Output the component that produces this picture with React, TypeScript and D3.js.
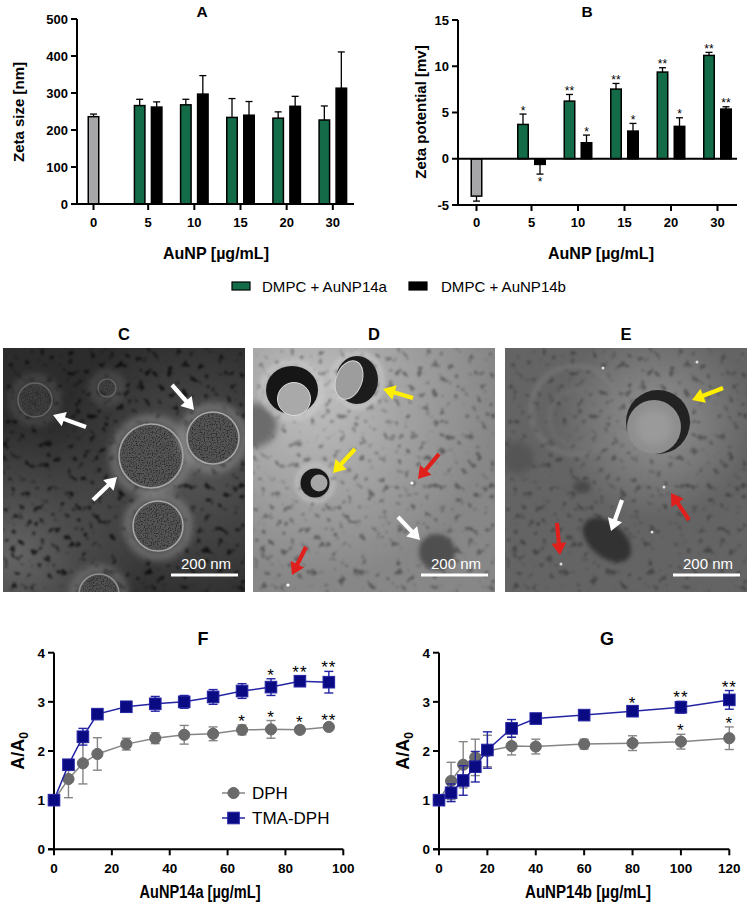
import React from 'react';
import * as d3 from 'd3';

// ---- data: panels A and B (zeta size / zeta potential) ----
const barGroups = ['0', '5', '10', '15', '20', '30'];
const barSeries = ['DMPC + AuNP14a', 'DMPC + AuNP14b'];

const sizeControl = { mean: 236, sd: 7 };
const size14a = [266, 268, 234, 232, 227];
const size14aSd = [17, 15, 51, 17, 38];
const size14b = [262, 297, 240, 264, 313];
const size14bSd = [14, 50, 37, 27, 98];

const potControl = { mean: -4.04, sd: 0.54 };
const pot14a = [3.71, 6.23, 7.53, 9.37, 11.17];
const pot14aSd = [1.12, 0.72, 0.61, 0.47, 0.33];
const pot14b = [-0.61, 1.73, 2.99, 3.5, 5.37];
const pot14bSd = [1.05, 0.83, 0.83, 0.93, 0.25];
const potSig14a = ['*', '**', '**', '**', '**'];
const potSig14b = ['*', '*', '*', '*', '**'];

// ---- data: panels F and G (A/A0) ----
const conc14a = [0, 5, 10, 15, 25, 35, 45, 55, 65, 75, 85, 95];
const dphF = [1, 1.43, 1.75, 1.94, 2.14, 2.26, 2.33, 2.35, 2.43, 2.44, 2.43, 2.49];
const dphFSd = [0.02, 0.38, 0.42, 0.33, 0.12, 0.11, 0.19, 0.14, 0.1, 0.18, 0.07, 0.06];
const tmaF = [1, 1.72, 2.29, 2.75, 2.9, 2.96, 3.0, 3.1, 3.22, 3.3, 3.42, 3.4];
const tmaFSd = [0.02, 0.05, 0.17, 0.07, 0.03, 0.15, 0.13, 0.15, 0.15, 0.17, 0.1, 0.22];
const dphFSig = ['', '', '', '', '', '', '', '', '*', '*', '*', '**'];
const tmaFSig = ['', '', '', '', '', '', '', '', '', '*', '**', '**'];

const conc14b = [0, 5, 10, 15, 20, 30, 40, 60, 80, 100, 120];
const dphG = [1, 1.39, 1.72, 1.87, 2.0, 2.1, 2.09, 2.14, 2.16, 2.19, 2.26];
const dphGSd = [0.02, 0.38, 0.47, 0.37, 0.32, 0.18, 0.15, 0.1, 0.15, 0.15, 0.23];
const tmaG = [1, 1.15, 1.4, 1.68, 2.02, 2.46, 2.66, 2.73, 2.81, 2.89, 3.04];
const tmaGSd = [0.02, 0.18, 0.3, 0.31, 0.37, 0.18, 0.1, 0.04, 0.08, 0.12, 0.19];
const dphGSig = ['', '', '', '', '', '', '', '', '', '*', '*'];
const tmaGSig = ['', '', '', '', '', '', '', '', '*', '**', '**'];

const FONT = "'Liberation Sans', Arial, Helvetica, sans-serif";
const GREEN = '#136b48';
const GRAY_BAR = '#a7a7a9';
const NAVY = '#0a0a82';
const NAVY_LINE = '#2424a4';
const DPH_GRAY = '#6a6a6a';
const DPH_LINE = '#858585';

type BarProps = {
  left: number; right: number; top: number; bottom: number;
  domain: [number, number]; ticks: number[];
  control: { mean: number; sd: number };
  a: number[]; aSd: number[]; b: number[]; bSd: number[];
  sigA?: string[]; sigB?: string[];
  slot0: number; title: string; yLabel: string; titleX: number; yLabelX: number; xLabelX: number;
};

function BarPanel(p: BarProps) {
  const y = d3.scaleLinear().domain(p.domain).range([p.bottom, p.top]);
  const xg = d3.scaleBand<string>().domain(barGroups).range([p.left, p.right]);
  const xs = d3.scaleBand<string>().domain(barSeries)
    .range([p.slot0 - 5.25, p.slot0 + 22.25]).paddingInner(0.382);
  const bw = xs.bandwidth();

  const bars: { g: string; s: string; v: number; sd: number; fill: string; sig: string }[] = [
    { g: barGroups[0], s: barSeries[0], v: p.control.mean, sd: p.control.sd, fill: GRAY_BAR, sig: '' },
  ];
  barGroups.slice(1).forEach((g, i) => {
    bars.push({ g, s: barSeries[0], v: p.a[i], sd: p.aSd[i], fill: GREEN, sig: p.sigA ? p.sigA[i] : '' });
    bars.push({ g, s: barSeries[1], v: p.b[i], sd: p.bSd[i], fill: '#000', sig: p.sigB ? p.sigB[i] : '' });
  });
  const cx = (d: { g: string; s: string }) => (xg(d.g) as number) + (xs(d.s) as number) + bw / 2;
  const labelX = barGroups.map(g => d3.mean(bars.filter(d => d.g === g), cx) as number);
  const y0 = y(0);
  const yMinPx = y(p.domain[0]);

  return (
    <g fontFamily={FONT}>
      <text x={p.titleX} y={17} fontSize={15.5} fontWeight="bold" textAnchor="middle">{p.title}</text>
      <text transform={`translate(${p.yLabelX},${112}) rotate(-90)`} fontSize={15} fontWeight="bold" textAnchor="middle">{p.yLabel}</text>
      {bars.map((d, i) => {
        const dir = d.v >= 0 ? 1 : -1;
        const end = y(d.v + dir * d.sd);
        const x = cx(d);
        return (
          <g key={i}>
            <line x1={x} x2={x} y1={y(d.v)} y2={end} stroke="#000" strokeWidth={1.3} />
            <line x1={x - 3.5} x2={x + 3.5} y1={end} y2={end} stroke="#000" strokeWidth={1.3} />
            <rect x={x - bw / 2} width={bw} y={Math.min(y(d.v), y0)} height={Math.abs(y(d.v) - y0)}
              fill={d.fill} stroke="#000" strokeWidth={1.5} />
            {d.sig && (
              <text x={x} y={dir > 0 ? end + 0.5 : end + 12} fontSize={12} textAnchor="middle">{d.sig}</text>
            )}
          </g>
        );
      })}
      {/* y axis */}
      <line x1={p.left} x2={p.left} y1={p.top} y2={yMinPx + 1} stroke="#000" strokeWidth={2} />
      {p.ticks.map(t => (
        <g key={t}>
          <line x1={p.left - 6} x2={p.left} y1={y(t)} y2={y(t)} stroke="#000" strokeWidth={2} />
          <text x={p.left - 9} y={y(t)} dy="0.36em" fontSize={13} fontWeight="bold" textAnchor="end">{t}</text>
        </g>
      ))}
      {/* baseline and bottom axis */}
      <line x1={p.left} x2={p.right} y1={y0} y2={y0} stroke="#000" strokeWidth={2} />
      {p.domain[0] < 0 && <line x1={p.left} x2={p.right} y1={yMinPx} y2={yMinPx} stroke="#000" strokeWidth={2} />}
      {barGroups.map((g, i) => (
        <g key={g}>
          <line x1={labelX[i]} x2={labelX[i]} y1={yMinPx} y2={yMinPx + 6} stroke="#000" strokeWidth={2} />
          <text x={labelX[i]} y={227} fontSize={13} fontWeight="bold" textAnchor="middle">{g}</text>
        </g>
      ))}
      <text x={p.xLabelX} y={259} fontSize={17} fontWeight="bold" textAnchor="middle"
        textLength={106} lengthAdjust="spacingAndGlyphs">AuNP [µg/mL]</text>
    </g>
  );
}

type LineProps = {
  left: number; right: number; xMax: number; xTicks: number[];
  xs: number[]; dph: number[]; dphSd: number[]; tma: number[]; tmaSd: number[];
  dphSig: string[]; tmaSig: string[];
  title: string; titleX: number; xLabel: string; xLabelX: number; xLabelW: number; yLabelX: number; legend?: boolean;
};

function LinePanel(p: LineProps) {
  const top = 652.7, bottom = 849.3;
  const x = d3.scaleLinear().domain([0, p.xMax]).range([p.left, p.right]);
  const y = d3.scaleLinear().domain([0, 4]).range([bottom, top]);
  const line = d3.line<number>().x((_, i) => x(p.xs[i])).y(d => y(d));
  const series = [
    { vals: p.dph, sd: p.dphSd, sig: p.dphSig, line: DPH_LINE, fill: DPH_GRAY, shape: 'circle' },
    { vals: p.tma, sd: p.tmaSd, sig: p.tmaSig, line: NAVY_LINE, fill: NAVY, shape: 'square' },
  ];
  const marker = (shape: string, cx: number, cy: number, fill: string, k: any) =>
    shape === 'circle'
      ? <circle key={k} cx={cx} cy={cy} r={5.6} fill={fill} stroke={fill} strokeWidth={1} />
      : <rect key={k} x={cx - 5.8} y={cy - 5.8} width={11.6} height={11.6} fill={fill} stroke={NAVY_LINE} strokeWidth={1} />;

  return (
    <g fontFamily={FONT}>
      <text x={p.titleX} y={645} fontSize={18} fontWeight="bold" textAnchor="middle">{p.title}</text>
      <text transform={`translate(${p.yLabelX},751) rotate(-90)`} fontSize={18} fontWeight="bold" textAnchor="middle">
        A/A<tspan fontSize={12} dy={4}>0</tspan>
      </text>
      {/* axes */}
      <line x1={p.left} x2={p.left} y1={top} y2={bottom + 1} stroke="#000" strokeWidth={2} />
      {[0, 1, 2, 3, 4].map(t => (
        <g key={t}>
          <line x1={p.left - 6} x2={p.left} y1={y(t)} y2={y(t)} stroke="#000" strokeWidth={2} />
          <text x={p.left - 9} y={y(t)} dy="0.36em" fontSize={13.5} fontWeight="bold" textAnchor="end">{t}</text>
        </g>
      ))}
      <line x1={p.left - 6} x2={p.right} y1={bottom} y2={bottom} stroke="#000" strokeWidth={2} />
      {p.xTicks.map(t => (
        <g key={t}>
          <line x1={x(t)} x2={x(t)} y1={bottom} y2={bottom + 6} stroke="#000" strokeWidth={2} />
          <text x={x(t)} y={873} fontSize={13.5} fontWeight="bold" textAnchor="middle">{t}</text>
        </g>
      ))}
      <text x={p.xLabelX} y={898} fontSize={18} fontWeight="bold" textAnchor="middle"
        textLength={p.xLabelW} lengthAdjust="spacingAndGlyphs">{p.xLabel}</text>
      {series.map((s, si) => (
        <g key={si}>
          {s.vals.map((v, i) => {
            const xi = x(p.xs[i]);
            const hi = y(v + s.sd[i]), lo = y(v - s.sd[i]);
            return (
              <g key={i} stroke={s.line} strokeWidth={1.4}>
                <line x1={xi} x2={xi} y1={hi} y2={lo} />
                <line x1={xi - 4.5} x2={xi + 4.5} y1={hi} y2={hi} />
                <line x1={xi - 4.5} x2={xi + 4.5} y1={lo} y2={lo} />
              </g>
            );
          })}
          <path d={line(s.vals) as string} fill="none" stroke={s.line} strokeWidth={1.5} />
          {s.vals.map((v, i) => marker(s.shape, x(p.xs[i]), y(v), s.fill, i))}
          {s.sig.map((g, i) => g && (
            <text key={'s' + i} x={x(p.xs[i])} y={y(s.vals[i] + s.sd[i]) + 2} fontSize={17} textAnchor="middle" letterSpacing={1}>{g}</text>
          ))}
        </g>
      ))}
      {p.legend && (
        <g fontSize={17}>
          <line x1={222} x2={245} y1={793} y2={793} stroke={DPH_LINE} strokeWidth={1.5} />
          {marker('circle', 233.5, 793, DPH_GRAY, 'l1')}
          <text x={252} y={799}>DPH</text>
          <line x1={222} x2={245} y1={818} y2={818} stroke={NAVY_LINE} strokeWidth={1.5} />
          {marker('square', 233.5, 818, NAVY, 'l2')}
          <text x={252} y={824}>TMA-DPH</text>
        </g>
      )}
    </g>
  );
}

// ---- micrographs ----
type Pt = [number, number];
function arrowPath(t: Pt, h: Pt, sw = 4.2, hl = 12, hw = 7.5) {
  const dx = h[0] - t[0], dy = h[1] - t[1];
  const L = Math.hypot(dx, dy);
  const ux = dx / L, uy = dy / L, nx = -uy, ny = ux;
  const bx = h[0] - ux * hl, by = h[1] - uy * hl;
  const pts: Pt[] = [
    [t[0] + nx * sw / 2, t[1] + ny * sw / 2], [bx + nx * sw / 2, by + ny * sw / 2], [bx + nx * hw, by + ny * hw], h,
    [bx - nx * hw, by - ny * hw], [bx - nx * sw / 2, by - ny * sw / 2], [t[0] - nx * sw / 2, t[1] - ny * sw / 2],
  ];
  return (d3.line()(pts) as string) + 'Z';
}

const PW = 242, PH = 244;

function ScaleBar() {
  return (
    <g fontFamily={FONT}>
      <line x1={168} x2={235} y1={227} y2={227} stroke="#fff" strokeWidth={3} />
      <text x={203} y={221} fill="#fff" fontSize={15} textAnchor="middle">200 nm</text>
    </g>
  );
}

function PanelC() {
  const ves = [
    { c: [32, 52] as Pt, r: 17, o: 0.45 },
    { c: [104, 40] as Pt, r: 9, o: 0.4 },
    { c: [148, 108] as Pt, r: 32, o: 1 },
    { c: [210, 90] as Pt, r: 26, o: 1 },
    { c: [155, 178] as Pt, r: 25, o: 1 },
    { c: [96, 246] as Pt, r: 20, o: 0.8 },
  ];
  return (
    <g>
      <rect width={PW} height={PH} fill="#2c2c2c" />
      <rect width={PW} height={PH} fill="url(#cGlow)" />
      <rect width={PW} height={PH} fill="url(#cGlow2)" />
      <rect width={PW} height={PH} filter="url(#speckle)" opacity={0.7} />
      {ves.map((v, i) => (
        <g key={i} opacity={v.o}>
          <circle cx={v.c[0]} cy={v.c[1]} r={v.r + 5} fill="none" stroke="#9c9c9c" strokeWidth={9} opacity={0.5} filter="url(#blur3)" />
          <circle cx={v.c[0]} cy={v.c[1]} r={v.r} fill="#555" stroke="#a8a8a8" strokeWidth={1.5} />
          <circle cx={v.c[0]} cy={v.c[1]} r={v.r - 1.5} filter="url(#honey)" opacity={0.8} />
        </g>
      ))}
      {[[[83, 79], [50, 67]], [[169, 37], [191, 62]], [[90, 152], [114, 129]]].map((a, i) => (
        <path key={i} d={arrowPath(a[0] as Pt, a[1] as Pt)} fill="#fff" />
      ))}
      <ScaleBar />
    </g>
  );
}

function PanelD() {
  return (
    <g>
      <rect width={PW} height={PH} fill="#878787" />
      <rect width={PW} height={PH} fill="url(#dGlow)" />
      <rect width={PW} height={PH} filter="url(#speckle)" opacity={0.35} />
      <circle cx={2} cy={77} r={22} fill="#6c6c6c" filter="url(#blur3)" />
      <circle cx={184} cy={204} r={18} fill="#505050" filter="url(#blur2)" />
      {/* vesicle 1 */}
      <ellipse cx={39} cy={42} rx={30} ry={28} fill="none" stroke="#cfcfcf" strokeWidth={5} opacity={0.6} filter="url(#blur2)" />
      <ellipse cx={39} cy={42} rx={26} ry={24} fill="#161616" />
      <circle cx={41} cy={51} r={16.5} fill="#a9a9a9" stroke="#dcdcdc" strokeWidth={1} />
      {/* vesicle 2 */}
      <ellipse cx={104} cy={32} rx={25} ry={27} fill="none" stroke="#cfcfcf" strokeWidth={5} opacity={0.6} filter="url(#blur2)" />
      <ellipse cx={104} cy={32} rx={21} ry={24} fill="#1c1c1c" />
      <ellipse cx={96} cy={32} rx={13} ry={20} transform="rotate(20 96 32)" fill="#9d9d9d" stroke="#d8d8d8" strokeWidth={1} />
      {/* vesicle 3 */}
      <circle cx={62} cy={135} r={18} fill="none" stroke="#cfcfcf" strokeWidth={4} opacity={0.6} filter="url(#blur2)" />
      <circle cx={62} cy={135} r={14.5} fill="#181818" />
      <circle cx={66} cy={135} r={8.5} fill="#a6a6a6" />
      {[[159, 135], [35, 237]].map((d, i) => <circle key={i} cx={d[0]} cy={d[1]} r={1.6} fill="#fff" />)}
      <path d={arrowPath([160, 50], [130, 41])} fill="#ffee00" />
      <path d={arrowPath([102, 101], [80, 125])} fill="#ffee00" />
      <path d={arrowPath([186, 106], [165, 131])} fill="#e0201c" />
      <path d={arrowPath([53, 199], [39, 227])} fill="#e0201c" />
      <path d={arrowPath([145, 169], [167, 192])} fill="#fff" />
      <ScaleBar />
    </g>
  );
}

function PanelE() {
  return (
    <g>
      <rect width={PW} height={PH} fill="#646464" />
      <rect width={PW} height={PH} fill="url(#eGlow)" />
      <rect width={PW} height={PH} filter="url(#speckle)" opacity={0.3} />
      <circle cx={70} cy={62} r={44} fill="none" stroke="#7e7e7e" strokeWidth={5} opacity={0.55} filter="url(#blur2)" />
      <circle cx={72} cy={70} r={28} fill="none" stroke="#787878" strokeWidth={4} opacity={0.45} filter="url(#blur2)" />
      <circle cx={13} cy={110} r={16} fill="#555" filter="url(#blur3)" />
      <ellipse cx={77} cy={139} rx={9} ry={6} fill="#484848" filter="url(#blur2)" />
      <ellipse cx={102} cy={192} rx={28} ry={17} transform="rotate(40 102 192)" fill="#333" filter="url(#blur2)" />
      {/* ring vesicle */}
      <circle cx={153} cy={74} r={32} fill="#222" />
      <circle cx={149} cy={79} r={27} fill="#8e8e8e" />
      <circle cx={149} cy={79} r={18} fill="#9a9a9a" filter="url(#blur3)" />
      {[[159, 139], [56, 216], [147, 184], [192, 14], [98, 20]].map((d, i) => <circle key={i} cx={d[0]} cy={d[1]} r={1.5} fill="#ddd" />)}
      <path d={arrowPath([218, 40], [187, 52])} fill="#ffee00" />
      <path d={arrowPath([117, 152], [106, 183])} fill="#fff" />
      <path d={arrowPath([184, 172], [166, 145])} fill="#e0201c" />
      <path d={arrowPath([52, 175], [55, 207])} fill="#e0201c" />
      <ScaleBar />
    </g>
  );
}

const panels = [
  { id: 'C', x: 3, el: <PanelC /> },
  { id: 'D', x: 253, el: <PanelD /> },
  { id: 'E', x: 505, el: <PanelE /> },
];

export default function App() {
  return (
    <svg width={750} height={913} viewBox="0 0 750 913"
      style={{ position: 'absolute', left: 0, top: 0, background: '#fff', display: 'block' }}>
      <defs>
        <clipPath id="panelClip"><rect width={PW} height={PH} /></clipPath>
        <filter id="speckle" x="0" y="0" width="100%" height="100%" colorInterpolationFilters="sRGB">
          <feTurbulence type="fractalNoise" baseFrequency="0.14" numOctaves="2" seed="7" />
          <feColorMatrix type="matrix" values="0 0 0 0 0  0 0 0 0 0  0 0 0 0 0  -7 0 0 0 2.75" />
          <feGaussianBlur stdDeviation="0.8" />
        </filter>
        <filter id="honey" x="0" y="0" width="100%" height="100%" colorInterpolationFilters="sRGB">
          <feTurbulence type="fractalNoise" baseFrequency="0.75" numOctaves="1" seed="2" result="n" />
          <feColorMatrix in="n" type="matrix" values="0 0 0 0 0.15  0 0 0 0 0.15  0 0 0 0 0.15  -5 0 0 0 2.6" result="d" />
          <feComposite in="d" in2="SourceGraphic" operator="in" />
        </filter>
        <filter id="blur2" x="-60%" y="-60%" width="220%" height="220%"><feGaussianBlur stdDeviation="2" /></filter>
        <filter id="blur3" x="-80%" y="-80%" width="260%" height="260%"><feGaussianBlur stdDeviation="3.5" /></filter>
        <radialGradient id="cGlow" cx="0.8" cy="0.5" r="0.6">
          <stop offset="0" stopColor="#777" stopOpacity="0.55" />
          <stop offset="1" stopColor="#777" stopOpacity="0" />
        </radialGradient>
        <radialGradient id="cGlow2" cx="0.05" cy="0.85" r="0.55">
          <stop offset="0" stopColor="#8a8a8a" stopOpacity="0.6" />
          <stop offset="1" stopColor="#8a8a8a" stopOpacity="0" />
        </radialGradient>
        <radialGradient id="dGlow" cx="0.25" cy="0.2" r="0.75">
          <stop offset="0" stopColor="#c6c6c6" stopOpacity="0.9" />
          <stop offset="1" stopColor="#c6c6c6" stopOpacity="0" />
        </radialGradient>
        <radialGradient id="eGlow" cx="0.62" cy="0.3" r="0.4">
          <stop offset="0" stopColor="#a0a0a0" stopOpacity="0.8" />
          <stop offset="1" stopColor="#a0a0a0" stopOpacity="0" />
        </radialGradient>
      </defs>

      <BarPanel left={77} right={354} top={19} bottom={204} domain={[0, 500]} ticks={[0, 100, 200, 300, 400, 500]}
        control={sizeControl} a={size14a} aSd={size14aSd} b={size14b} bSd={size14bSd}
        slot0={16.5} title="A" titleX={202} yLabel="Zeta size [nm]" yLabelX={23.5} xLabelX={216} />
      <BarPanel left={458} right={737} top={20} bottom={205} domain={[-5, 15]} ticks={[-5, 0, 5, 10, 15]}
        control={potControl} a={pot14a} aSd={pot14aSd} b={pot14b} bSd={pot14bSd} sigA={potSig14a} sigB={potSig14b}
        slot0={18.5} title="B" titleX={587} yLabel="Zeta potential [mv]" yLabelX={425.5} xLabelX={601} />

      {/* shared legend */}
      <g fontFamily={FONT} fontSize={15}>
        <rect x={232} y={282} width={18} height={8} fill={GREEN} stroke="#000" strokeWidth={1.2} />
        <text x={262} y={292} textLength={125} lengthAdjust="spacingAndGlyphs">{barSeries[0]}</text>
        <rect x={409} y={282} width={18} height={8} fill="#000" stroke="#000" strokeWidth={1.2} />
        <text x={441} y={292} textLength={125} lengthAdjust="spacingAndGlyphs">{barSeries[1]}</text>
      </g>

      {panels.map(p => (
        <g key={p.id}>
          <text x={p.x + 121} y={340} fontFamily={FONT} fontSize={16.5} fontWeight="bold" textAnchor="middle">{p.id}</text>
          <g transform={`translate(${p.x},348)`} clipPath="url(#panelClip)">{p.el}</g>
        </g>
      ))}

      <LinePanel left={54} right={343.3} xMax={100} xTicks={[0, 20, 40, 60, 80, 100]}
        xs={conc14a} dph={dphF} dphSd={dphFSd} tma={tmaF} tmaSd={tmaFSd} dphSig={dphFSig} tmaSig={tmaFSig}
        title="F" titleX={203} xLabel="AuNP14a [µg/mL]" xLabelX={200} xLabelW={121} yLabelX={24} legend />
      <LinePanel left={439} right={729.3} xMax={120} xTicks={[0, 20, 40, 60, 80, 100, 120]}
        xs={conc14b} dph={dphG} dphSd={dphGSd} tma={tmaG} tmaSd={tmaGSd} dphSig={dphGSig} tmaSig={tmaGSig}
        title="G" titleX={607} xLabel="AuNP14b [µg/mL]" xLabelX={588} xLabelW={126} yLabelX={409} />
    </svg>
  );
}
